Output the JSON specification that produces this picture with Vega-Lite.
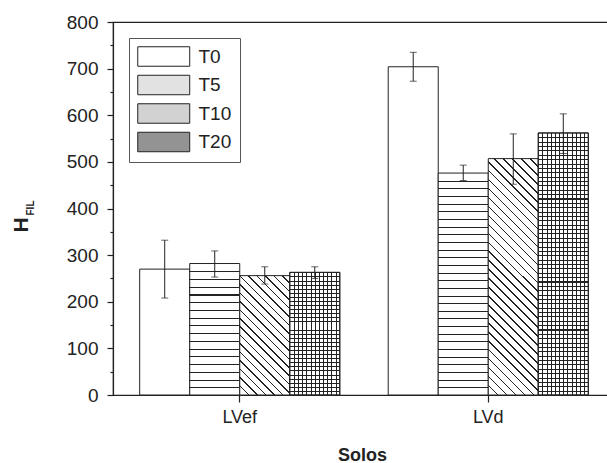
{
  "$schema": "https://vega.github.io/schema/vega-lite/v6.json",
  "width": 502,
  "height": 373,
  "autosize": {"type": "none"},
  "padding": {"left": 113, "top": 22, "right": -8, "bottom": 68},
  "background": "white",
  "config": {
    "view": {"stroke": "#222", "strokeWidth": 1.2},
    "font": "Liberation Sans",
    "axis": {"domainColor": "#222", "tickColor": "#222", "labelColor": "#222", "titleColor": "#222", "labelFont": "Liberation Sans", "titleFont": "Liberation Sans", "grid": false, "domainWidth": 1.2, "tickWidth": 1.2}
  },
  "data": {
    "values": [
      {"solo": "LVef", "t": "T0", "value": 270, "lo": 208, "hi": 332},
      {"solo": "LVef", "t": "T5", "value": 282, "lo": 253, "hi": 309},
      {"solo": "LVef", "t": "T10", "value": 256, "lo": 238, "hi": 275},
      {"solo": "LVef", "t": "T20", "value": 263, "lo": 250, "hi": 275},
      {"solo": "LVd", "t": "T0", "value": 704, "lo": 673, "hi": 735},
      {"solo": "LVd", "t": "T5", "value": 476, "lo": 460, "hi": 493},
      {"solo": "LVd", "t": "T10", "value": 507, "lo": 452, "hi": 560},
      {"solo": "LVd", "t": "T20", "value": 562, "lo": 518, "hi": 603}
    ]
  },
  "resolve": {"axis": {"y": "independent"}},
  "layer": [
    {
      "mark": {"type": "bar", "stroke": "#222", "strokeWidth": 1},
      "encoding": {
        "x": {"field": "solo", "type": "nominal", "sort": ["LVef", "LVd"], "scale": {"paddingInner": 0, "paddingOuter": 0.01},
          "axis": {"title": "Solos", "labelAngle": 0, "labelFontSize": 18, "labelBaseline": "alphabetic", "labelPadding": 20, "tickSize": 7, "titleFontSize": 18, "titleFontWeight": "bold", "titleBaseline": "alphabetic", "titleX": 249, "titleY": 65}},
        "xOffset": {"field": "t", "type": "nominal", "sort": ["T0", "T5", "T10", "T20"], "scale": {"domain": ["T0", "T5", "T10", "T20"], "paddingInner": 0, "paddingOuter": 0.484}},
        "y": {"field": "value", "type": "quantitative", "scale": {"domain": [0, 800], "nice": false},
          "axis": {"title": "H", "titleFontSize": 21, "titleFontWeight": "bold", "titleAngle": -90, "titleAlign": "center", "titleBaseline": "alphabetic", "titleX": -86, "titleY": 202.5,
            "values": [0, 50, 100, 150, 200, 250, 300, 350, 400, 450, 500, 550, 600, 650, 700, 750, 800],
            "labelExpr": "datum.value % 100 === 0 ? datum.label : ''",
            "tickSize": {"condition": {"test": "datum.value % 100 !== 0", "value": 3}, "value": 6},
            "labelFontSize": 19, "labelPadding": 9}},
        "fill": {
          "field": "t", "type": "nominal",
          "scale": {"domain": ["T0", "T5", "T10", "T20"], "range": ["#ffffff", "#e2e2e2", "#d2d2d2", "#939393"]},
          "legend": {
            "title": null, "orient": "none", "legendX": 16, "legendY": 16, "padding": 8, "rowPadding": 3.5,
            "strokeColor": "#555", "symbolType": "M-1,-1H4.333V1H-1Z", "symbolSize": 380,
            "symbolStrokeColor": "#222", "symbolStrokeWidth": 1, "symbolOpacity": 1, "labelFontSize": 19, "labelColor": "#222", "labelOffset": 40.5,
            "labelExpr": "datum.label + '  '"
          },
          "condition": [
            {"test": "datum.t === 'T0'", "value": "#fff"},
            {"test": "datum.solo === 'LVef' && datum.t === 'T5'", "value": {"gradient": "linear", "x1": 0, "y1": 0, "x2": 0, "y2": 1, "stops": [
              {"offset": 0, "color": "#fff"},
              {"offset": 0.0588, "color": "#fff"}, {"offset": 0.0588, "color": "#222"}, {"offset": 0.0668, "color": "#222"}, {"offset": 0.0668, "color": "#fff"},
              {"offset": 0.1176, "color": "#fff"}, {"offset": 0.1176, "color": "#222"}, {"offset": 0.1256, "color": "#222"}, {"offset": 0.1256, "color": "#fff"},
              {"offset": 0.1765, "color": "#fff"}, {"offset": 0.1765, "color": "#222"}, {"offset": 0.1845, "color": "#222"}, {"offset": 0.1845, "color": "#fff"},
              {"offset": 0.2353, "color": "#fff"}, {"offset": 0.2353, "color": "#222"}, {"offset": 0.2433, "color": "#222"}, {"offset": 0.2433, "color": "#fff"},
              {"offset": 0.2941, "color": "#fff"}, {"offset": 0.2941, "color": "#222"}, {"offset": 0.3021, "color": "#222"}, {"offset": 0.3021, "color": "#fff"},
              {"offset": 0.3529, "color": "#fff"}, {"offset": 0.3529, "color": "#222"}, {"offset": 0.3609, "color": "#222"}, {"offset": 0.3609, "color": "#fff"},
              {"offset": 0.4118, "color": "#fff"}, {"offset": 0.4118, "color": "#222"}, {"offset": 0.4198, "color": "#222"}, {"offset": 0.4198, "color": "#fff"},
              {"offset": 0.4706, "color": "#fff"}, {"offset": 0.4706, "color": "#222"}, {"offset": 0.4786, "color": "#222"}, {"offset": 0.4786, "color": "#fff"},
              {"offset": 0.5294, "color": "#fff"}, {"offset": 0.5294, "color": "#222"}, {"offset": 0.5374, "color": "#222"}, {"offset": 0.5374, "color": "#fff"},
              {"offset": 0.5882, "color": "#fff"}, {"offset": 0.5882, "color": "#222"}, {"offset": 0.5962, "color": "#222"}, {"offset": 0.5962, "color": "#fff"},
              {"offset": 0.6471, "color": "#fff"}, {"offset": 0.6471, "color": "#222"}, {"offset": 0.6551, "color": "#222"}, {"offset": 0.6551, "color": "#fff"},
              {"offset": 0.7059, "color": "#fff"}, {"offset": 0.7059, "color": "#222"}, {"offset": 0.7139, "color": "#222"}, {"offset": 0.7139, "color": "#fff"},
              {"offset": 0.7647, "color": "#fff"}, {"offset": 0.7647, "color": "#222"}, {"offset": 0.7727, "color": "#222"}, {"offset": 0.7727, "color": "#fff"},
              {"offset": 0.8235, "color": "#fff"}, {"offset": 0.8235, "color": "#222"}, {"offset": 0.8315, "color": "#222"}, {"offset": 0.8315, "color": "#fff"},
              {"offset": 0.8824, "color": "#fff"}, {"offset": 0.8824, "color": "#222"}, {"offset": 0.8904, "color": "#222"}, {"offset": 0.8904, "color": "#fff"},
              {"offset": 0.9412, "color": "#fff"}, {"offset": 0.9412, "color": "#222"}, {"offset": 0.9492, "color": "#222"}, {"offset": 0.9492, "color": "#fff"},
              {"offset": 1, "color": "#fff"}]}},
            {"test": "datum.solo === 'LVd' && datum.t === 'T5'", "value": {"gradient": "linear", "x1": 0, "y1": 0, "x2": 0, "y2": 1, "stops": [
              {"offset": 0, "color": "#fff"},
              {"offset": 0.0345, "color": "#fff"}, {"offset": 0.0345, "color": "#222"}, {"offset": 0.039, "color": "#222"}, {"offset": 0.039, "color": "#fff"},
              {"offset": 0.069, "color": "#fff"}, {"offset": 0.069, "color": "#222"}, {"offset": 0.0735, "color": "#222"}, {"offset": 0.0735, "color": "#fff"},
              {"offset": 0.1034, "color": "#fff"}, {"offset": 0.1034, "color": "#222"}, {"offset": 0.1079, "color": "#222"}, {"offset": 0.1079, "color": "#fff"},
              {"offset": 0.1379, "color": "#fff"}, {"offset": 0.1379, "color": "#222"}, {"offset": 0.1424, "color": "#222"}, {"offset": 0.1424, "color": "#fff"},
              {"offset": 0.1724, "color": "#fff"}, {"offset": 0.1724, "color": "#222"}, {"offset": 0.1769, "color": "#222"}, {"offset": 0.1769, "color": "#fff"},
              {"offset": 0.2069, "color": "#fff"}, {"offset": 0.2069, "color": "#222"}, {"offset": 0.2114, "color": "#222"}, {"offset": 0.2114, "color": "#fff"},
              {"offset": 0.2414, "color": "#fff"}, {"offset": 0.2414, "color": "#222"}, {"offset": 0.2459, "color": "#222"}, {"offset": 0.2459, "color": "#fff"},
              {"offset": 0.2759, "color": "#fff"}, {"offset": 0.2759, "color": "#222"}, {"offset": 0.2804, "color": "#222"}, {"offset": 0.2804, "color": "#fff"},
              {"offset": 0.3103, "color": "#fff"}, {"offset": 0.3103, "color": "#222"}, {"offset": 0.3148, "color": "#222"}, {"offset": 0.3148, "color": "#fff"},
              {"offset": 0.3448, "color": "#fff"}, {"offset": 0.3448, "color": "#222"}, {"offset": 0.3493, "color": "#222"}, {"offset": 0.3493, "color": "#fff"},
              {"offset": 0.3793, "color": "#fff"}, {"offset": 0.3793, "color": "#222"}, {"offset": 0.3838, "color": "#222"}, {"offset": 0.3838, "color": "#fff"},
              {"offset": 0.4138, "color": "#fff"}, {"offset": 0.4138, "color": "#222"}, {"offset": 0.4183, "color": "#222"}, {"offset": 0.4183, "color": "#fff"},
              {"offset": 0.4483, "color": "#fff"}, {"offset": 0.4483, "color": "#222"}, {"offset": 0.4528, "color": "#222"}, {"offset": 0.4528, "color": "#fff"},
              {"offset": 0.4828, "color": "#fff"}, {"offset": 0.4828, "color": "#222"}, {"offset": 0.4873, "color": "#222"}, {"offset": 0.4873, "color": "#fff"},
              {"offset": 0.5172, "color": "#fff"}, {"offset": 0.5172, "color": "#222"}, {"offset": 0.5217, "color": "#222"}, {"offset": 0.5217, "color": "#fff"},
              {"offset": 0.5517, "color": "#fff"}, {"offset": 0.5517, "color": "#222"}, {"offset": 0.5562, "color": "#222"}, {"offset": 0.5562, "color": "#fff"},
              {"offset": 0.5862, "color": "#fff"}, {"offset": 0.5862, "color": "#222"}, {"offset": 0.5907, "color": "#222"}, {"offset": 0.5907, "color": "#fff"},
              {"offset": 0.6207, "color": "#fff"}, {"offset": 0.6207, "color": "#222"}, {"offset": 0.6252, "color": "#222"}, {"offset": 0.6252, "color": "#fff"},
              {"offset": 0.6552, "color": "#fff"}, {"offset": 0.6552, "color": "#222"}, {"offset": 0.6597, "color": "#222"}, {"offset": 0.6597, "color": "#fff"},
              {"offset": 0.6897, "color": "#fff"}, {"offset": 0.6897, "color": "#222"}, {"offset": 0.6942, "color": "#222"}, {"offset": 0.6942, "color": "#fff"},
              {"offset": 0.7241, "color": "#fff"}, {"offset": 0.7241, "color": "#222"}, {"offset": 0.7286, "color": "#222"}, {"offset": 0.7286, "color": "#fff"},
              {"offset": 0.7586, "color": "#fff"}, {"offset": 0.7586, "color": "#222"}, {"offset": 0.7631, "color": "#222"}, {"offset": 0.7631, "color": "#fff"},
              {"offset": 0.7931, "color": "#fff"}, {"offset": 0.7931, "color": "#222"}, {"offset": 0.7976, "color": "#222"}, {"offset": 0.7976, "color": "#fff"},
              {"offset": 0.8276, "color": "#fff"}, {"offset": 0.8276, "color": "#222"}, {"offset": 0.8321, "color": "#222"}, {"offset": 0.8321, "color": "#fff"},
              {"offset": 0.8621, "color": "#fff"}, {"offset": 0.8621, "color": "#222"}, {"offset": 0.8666, "color": "#222"}, {"offset": 0.8666, "color": "#fff"},
              {"offset": 0.8966, "color": "#fff"}, {"offset": 0.8966, "color": "#222"}, {"offset": 0.9011, "color": "#222"}, {"offset": 0.9011, "color": "#fff"},
              {"offset": 0.931, "color": "#fff"}, {"offset": 0.931, "color": "#222"}, {"offset": 0.9355, "color": "#222"}, {"offset": 0.9355, "color": "#fff"},
              {"offset": 0.9655, "color": "#fff"}, {"offset": 0.9655, "color": "#222"}, {"offset": 0.97, "color": "#222"}, {"offset": 0.97, "color": "#fff"},
              {"offset": 1, "color": "#fff"}]}},
            {"test": "datum.solo === 'LVef' && datum.t === 'T10'", "value": {"gradient": "linear", "x1": 0, "y1": 1, "x2": 0.5055, "y2": -0.2071, "stops": [
              {"offset": 0, "color": "#fff"},
              {"offset": 0.05, "color": "#fff"}, {"offset": 0.05, "color": "#222"}, {"offset": 0.059, "color": "#222"}, {"offset": 0.059, "color": "#fff"},
              {"offset": 0.1, "color": "#fff"}, {"offset": 0.1, "color": "#222"}, {"offset": 0.109, "color": "#222"}, {"offset": 0.109, "color": "#fff"},
              {"offset": 0.15, "color": "#fff"}, {"offset": 0.15, "color": "#222"}, {"offset": 0.159, "color": "#222"}, {"offset": 0.159, "color": "#fff"},
              {"offset": 0.2, "color": "#fff"}, {"offset": 0.2, "color": "#222"}, {"offset": 0.209, "color": "#222"}, {"offset": 0.209, "color": "#fff"},
              {"offset": 0.25, "color": "#fff"}, {"offset": 0.25, "color": "#222"}, {"offset": 0.259, "color": "#222"}, {"offset": 0.259, "color": "#fff"},
              {"offset": 0.3, "color": "#fff"}, {"offset": 0.3, "color": "#222"}, {"offset": 0.309, "color": "#222"}, {"offset": 0.309, "color": "#fff"},
              {"offset": 0.35, "color": "#fff"}, {"offset": 0.35, "color": "#222"}, {"offset": 0.359, "color": "#222"}, {"offset": 0.359, "color": "#fff"},
              {"offset": 0.4, "color": "#fff"}, {"offset": 0.4, "color": "#222"}, {"offset": 0.409, "color": "#222"}, {"offset": 0.409, "color": "#fff"},
              {"offset": 0.45, "color": "#fff"}, {"offset": 0.45, "color": "#222"}, {"offset": 0.459, "color": "#222"}, {"offset": 0.459, "color": "#fff"},
              {"offset": 0.5, "color": "#fff"}, {"offset": 0.5, "color": "#222"}, {"offset": 0.509, "color": "#222"}, {"offset": 0.509, "color": "#fff"},
              {"offset": 0.55, "color": "#fff"}, {"offset": 0.55, "color": "#222"}, {"offset": 0.559, "color": "#222"}, {"offset": 0.559, "color": "#fff"},
              {"offset": 0.6, "color": "#fff"}, {"offset": 0.6, "color": "#222"}, {"offset": 0.609, "color": "#222"}, {"offset": 0.609, "color": "#fff"},
              {"offset": 0.65, "color": "#fff"}, {"offset": 0.65, "color": "#222"}, {"offset": 0.659, "color": "#222"}, {"offset": 0.659, "color": "#fff"},
              {"offset": 0.7, "color": "#fff"}, {"offset": 0.7, "color": "#222"}, {"offset": 0.709, "color": "#222"}, {"offset": 0.709, "color": "#fff"},
              {"offset": 0.75, "color": "#fff"}, {"offset": 0.75, "color": "#222"}, {"offset": 0.759, "color": "#222"}, {"offset": 0.759, "color": "#fff"},
              {"offset": 0.8, "color": "#fff"}, {"offset": 0.8, "color": "#222"}, {"offset": 0.809, "color": "#222"}, {"offset": 0.809, "color": "#fff"},
              {"offset": 0.85, "color": "#fff"}, {"offset": 0.85, "color": "#222"}, {"offset": 0.859, "color": "#222"}, {"offset": 0.859, "color": "#fff"},
              {"offset": 0.9, "color": "#fff"}, {"offset": 0.9, "color": "#222"}, {"offset": 0.909, "color": "#222"}, {"offset": 0.909, "color": "#fff"},
              {"offset": 0.95, "color": "#fff"}, {"offset": 0.95, "color": "#222"}, {"offset": 0.959, "color": "#222"}, {"offset": 0.959, "color": "#fff"},
              {"offset": 1, "color": "#fff"}]}},
            {"test": "datum.solo === 'LVd' && datum.t === 'T10'", "value": {"gradient": "linear", "x1": 0, "y1": 1, "x2": 0.2453, "y2": -0.1596, "stops": [
              {"offset": 0, "color": "#fff"},
              {"offset": 0.0313, "color": "#fff"}, {"offset": 0.0313, "color": "#222"}, {"offset": 0.0368, "color": "#222"}, {"offset": 0.0368, "color": "#fff"},
              {"offset": 0.0625, "color": "#fff"}, {"offset": 0.0625, "color": "#222"}, {"offset": 0.068, "color": "#222"}, {"offset": 0.068, "color": "#fff"},
              {"offset": 0.0938, "color": "#fff"}, {"offset": 0.0938, "color": "#222"}, {"offset": 0.0993, "color": "#222"}, {"offset": 0.0993, "color": "#fff"},
              {"offset": 0.125, "color": "#fff"}, {"offset": 0.125, "color": "#222"}, {"offset": 0.1305, "color": "#222"}, {"offset": 0.1305, "color": "#fff"},
              {"offset": 0.1563, "color": "#fff"}, {"offset": 0.1563, "color": "#222"}, {"offset": 0.1618, "color": "#222"}, {"offset": 0.1618, "color": "#fff"},
              {"offset": 0.1875, "color": "#fff"}, {"offset": 0.1875, "color": "#222"}, {"offset": 0.193, "color": "#222"}, {"offset": 0.193, "color": "#fff"},
              {"offset": 0.2188, "color": "#fff"}, {"offset": 0.2188, "color": "#222"}, {"offset": 0.2243, "color": "#222"}, {"offset": 0.2243, "color": "#fff"},
              {"offset": 0.25, "color": "#fff"}, {"offset": 0.25, "color": "#222"}, {"offset": 0.2555, "color": "#222"}, {"offset": 0.2555, "color": "#fff"},
              {"offset": 0.2813, "color": "#fff"}, {"offset": 0.2813, "color": "#222"}, {"offset": 0.2868, "color": "#222"}, {"offset": 0.2868, "color": "#fff"},
              {"offset": 0.3125, "color": "#fff"}, {"offset": 0.3125, "color": "#222"}, {"offset": 0.318, "color": "#222"}, {"offset": 0.318, "color": "#fff"},
              {"offset": 0.3438, "color": "#fff"}, {"offset": 0.3438, "color": "#222"}, {"offset": 0.3493, "color": "#222"}, {"offset": 0.3493, "color": "#fff"},
              {"offset": 0.375, "color": "#fff"}, {"offset": 0.375, "color": "#222"}, {"offset": 0.3805, "color": "#222"}, {"offset": 0.3805, "color": "#fff"},
              {"offset": 0.4063, "color": "#fff"}, {"offset": 0.4063, "color": "#222"}, {"offset": 0.4118, "color": "#222"}, {"offset": 0.4118, "color": "#fff"},
              {"offset": 0.4375, "color": "#fff"}, {"offset": 0.4375, "color": "#222"}, {"offset": 0.443, "color": "#222"}, {"offset": 0.443, "color": "#fff"},
              {"offset": 0.4688, "color": "#fff"}, {"offset": 0.4688, "color": "#222"}, {"offset": 0.4743, "color": "#222"}, {"offset": 0.4743, "color": "#fff"},
              {"offset": 0.5, "color": "#fff"}, {"offset": 0.5, "color": "#222"}, {"offset": 0.5055, "color": "#222"}, {"offset": 0.5055, "color": "#fff"},
              {"offset": 0.5313, "color": "#fff"}, {"offset": 0.5313, "color": "#222"}, {"offset": 0.5368, "color": "#222"}, {"offset": 0.5368, "color": "#fff"},
              {"offset": 0.5625, "color": "#fff"}, {"offset": 0.5625, "color": "#222"}, {"offset": 0.568, "color": "#222"}, {"offset": 0.568, "color": "#fff"},
              {"offset": 0.5938, "color": "#fff"}, {"offset": 0.5938, "color": "#222"}, {"offset": 0.5993, "color": "#222"}, {"offset": 0.5993, "color": "#fff"},
              {"offset": 0.625, "color": "#fff"}, {"offset": 0.625, "color": "#222"}, {"offset": 0.6305, "color": "#222"}, {"offset": 0.6305, "color": "#fff"},
              {"offset": 0.6563, "color": "#fff"}, {"offset": 0.6563, "color": "#222"}, {"offset": 0.6618, "color": "#222"}, {"offset": 0.6618, "color": "#fff"},
              {"offset": 0.6875, "color": "#fff"}, {"offset": 0.6875, "color": "#222"}, {"offset": 0.693, "color": "#222"}, {"offset": 0.693, "color": "#fff"},
              {"offset": 0.7188, "color": "#fff"}, {"offset": 0.7188, "color": "#222"}, {"offset": 0.7243, "color": "#222"}, {"offset": 0.7243, "color": "#fff"},
              {"offset": 0.75, "color": "#fff"}, {"offset": 0.75, "color": "#222"}, {"offset": 0.7555, "color": "#222"}, {"offset": 0.7555, "color": "#fff"},
              {"offset": 0.7813, "color": "#fff"}, {"offset": 0.7813, "color": "#222"}, {"offset": 0.7868, "color": "#222"}, {"offset": 0.7868, "color": "#fff"},
              {"offset": 0.8125, "color": "#fff"}, {"offset": 0.8125, "color": "#222"}, {"offset": 0.818, "color": "#222"}, {"offset": 0.818, "color": "#fff"},
              {"offset": 0.8438, "color": "#fff"}, {"offset": 0.8438, "color": "#222"}, {"offset": 0.8493, "color": "#222"}, {"offset": 0.8493, "color": "#fff"},
              {"offset": 0.875, "color": "#fff"}, {"offset": 0.875, "color": "#222"}, {"offset": 0.8805, "color": "#222"}, {"offset": 0.8805, "color": "#fff"},
              {"offset": 0.9063, "color": "#fff"}, {"offset": 0.9063, "color": "#222"}, {"offset": 0.9118, "color": "#222"}, {"offset": 0.9118, "color": "#fff"},
              {"offset": 0.9375, "color": "#fff"}, {"offset": 0.9375, "color": "#222"}, {"offset": 0.943, "color": "#222"}, {"offset": 0.943, "color": "#fff"},
              {"offset": 0.9688, "color": "#fff"}, {"offset": 0.9688, "color": "#222"}, {"offset": 0.9743, "color": "#222"}, {"offset": 0.9743, "color": "#fff"},
              {"offset": 1, "color": "#fff"}]}},
            {"test": "datum.solo === 'LVef' && datum.t === 'T20'", "value": {"gradient": "linear", "x1": 0, "y1": 0, "x2": 0, "y2": 1, "stops": [
              {"offset": 0, "color": "#fff"},
              {"offset": 0.0333, "color": "#fff"}, {"offset": 0.0333, "color": "#222"}, {"offset": 0.0413, "color": "#222"}, {"offset": 0.0413, "color": "#fff"},
              {"offset": 0.0667, "color": "#fff"}, {"offset": 0.0667, "color": "#222"}, {"offset": 0.0747, "color": "#222"}, {"offset": 0.0747, "color": "#fff"},
              {"offset": 0.1, "color": "#fff"}, {"offset": 0.1, "color": "#222"}, {"offset": 0.108, "color": "#222"}, {"offset": 0.108, "color": "#fff"},
              {"offset": 0.1333, "color": "#fff"}, {"offset": 0.1333, "color": "#222"}, {"offset": 0.1413, "color": "#222"}, {"offset": 0.1413, "color": "#fff"},
              {"offset": 0.1667, "color": "#fff"}, {"offset": 0.1667, "color": "#222"}, {"offset": 0.1747, "color": "#222"}, {"offset": 0.1747, "color": "#fff"},
              {"offset": 0.2, "color": "#fff"}, {"offset": 0.2, "color": "#222"}, {"offset": 0.208, "color": "#222"}, {"offset": 0.208, "color": "#fff"},
              {"offset": 0.2333, "color": "#fff"}, {"offset": 0.2333, "color": "#222"}, {"offset": 0.2413, "color": "#222"}, {"offset": 0.2413, "color": "#fff"},
              {"offset": 0.2667, "color": "#fff"}, {"offset": 0.2667, "color": "#222"}, {"offset": 0.2747, "color": "#222"}, {"offset": 0.2747, "color": "#fff"},
              {"offset": 0.3, "color": "#fff"}, {"offset": 0.3, "color": "#222"}, {"offset": 0.308, "color": "#222"}, {"offset": 0.308, "color": "#fff"},
              {"offset": 0.3333, "color": "#fff"}, {"offset": 0.3333, "color": "#222"}, {"offset": 0.3413, "color": "#222"}, {"offset": 0.3413, "color": "#fff"},
              {"offset": 0.3667, "color": "#fff"}, {"offset": 0.3667, "color": "#222"}, {"offset": 0.3747, "color": "#222"}, {"offset": 0.3747, "color": "#fff"},
              {"offset": 0.4, "color": "#fff"}, {"offset": 0.4, "color": "#222"}, {"offset": 0.408, "color": "#222"}, {"offset": 0.408, "color": "#fff"},
              {"offset": 0.4333, "color": "#fff"}, {"offset": 0.4333, "color": "#222"}, {"offset": 0.4413, "color": "#222"}, {"offset": 0.4413, "color": "#fff"},
              {"offset": 0.4667, "color": "#fff"}, {"offset": 0.4667, "color": "#222"}, {"offset": 0.4747, "color": "#222"}, {"offset": 0.4747, "color": "#fff"},
              {"offset": 0.5, "color": "#fff"}, {"offset": 0.5, "color": "#222"}, {"offset": 0.508, "color": "#222"}, {"offset": 0.508, "color": "#fff"},
              {"offset": 0.5333, "color": "#fff"}, {"offset": 0.5333, "color": "#222"}, {"offset": 0.5413, "color": "#222"}, {"offset": 0.5413, "color": "#fff"},
              {"offset": 0.5667, "color": "#fff"}, {"offset": 0.5667, "color": "#222"}, {"offset": 0.5747, "color": "#222"}, {"offset": 0.5747, "color": "#fff"},
              {"offset": 0.6, "color": "#fff"}, {"offset": 0.6, "color": "#222"}, {"offset": 0.608, "color": "#222"}, {"offset": 0.608, "color": "#fff"},
              {"offset": 0.6333, "color": "#fff"}, {"offset": 0.6333, "color": "#222"}, {"offset": 0.6413, "color": "#222"}, {"offset": 0.6413, "color": "#fff"},
              {"offset": 0.6667, "color": "#fff"}, {"offset": 0.6667, "color": "#222"}, {"offset": 0.6747, "color": "#222"}, {"offset": 0.6747, "color": "#fff"},
              {"offset": 0.7, "color": "#fff"}, {"offset": 0.7, "color": "#222"}, {"offset": 0.708, "color": "#222"}, {"offset": 0.708, "color": "#fff"},
              {"offset": 0.7333, "color": "#fff"}, {"offset": 0.7333, "color": "#222"}, {"offset": 0.7413, "color": "#222"}, {"offset": 0.7413, "color": "#fff"},
              {"offset": 0.7667, "color": "#fff"}, {"offset": 0.7667, "color": "#222"}, {"offset": 0.7747, "color": "#222"}, {"offset": 0.7747, "color": "#fff"},
              {"offset": 0.8, "color": "#fff"}, {"offset": 0.8, "color": "#222"}, {"offset": 0.808, "color": "#222"}, {"offset": 0.808, "color": "#fff"},
              {"offset": 0.8333, "color": "#fff"}, {"offset": 0.8333, "color": "#222"}, {"offset": 0.8413, "color": "#222"}, {"offset": 0.8413, "color": "#fff"},
              {"offset": 0.8667, "color": "#fff"}, {"offset": 0.8667, "color": "#222"}, {"offset": 0.8747, "color": "#222"}, {"offset": 0.8747, "color": "#fff"},
              {"offset": 0.9, "color": "#fff"}, {"offset": 0.9, "color": "#222"}, {"offset": 0.908, "color": "#222"}, {"offset": 0.908, "color": "#fff"},
              {"offset": 0.9333, "color": "#fff"}, {"offset": 0.9333, "color": "#222"}, {"offset": 0.9413, "color": "#222"}, {"offset": 0.9413, "color": "#fff"},
              {"offset": 0.9667, "color": "#fff"}, {"offset": 0.9667, "color": "#222"}, {"offset": 0.9747, "color": "#222"}, {"offset": 0.9747, "color": "#fff"},
              {"offset": 1, "color": "#fff"}]}},
            {"test": "datum.solo === 'LVd' && datum.t === 'T20'", "value": {"gradient": "linear", "x1": 0, "y1": 0, "x2": 0, "y2": 1, "stops": [
              {"offset": 0, "color": "#fff"},
              {"offset": 0.0167, "color": "#fff"}, {"offset": 0.0167, "color": "#222"}, {"offset": 0.0207, "color": "#222"}, {"offset": 0.0207, "color": "#fff"},
              {"offset": 0.0333, "color": "#fff"}, {"offset": 0.0333, "color": "#222"}, {"offset": 0.0373, "color": "#222"}, {"offset": 0.0373, "color": "#fff"},
              {"offset": 0.05, "color": "#fff"}, {"offset": 0.05, "color": "#222"}, {"offset": 0.054, "color": "#222"}, {"offset": 0.054, "color": "#fff"},
              {"offset": 0.0667, "color": "#fff"}, {"offset": 0.0667, "color": "#222"}, {"offset": 0.0707, "color": "#222"}, {"offset": 0.0707, "color": "#fff"},
              {"offset": 0.0833, "color": "#fff"}, {"offset": 0.0833, "color": "#222"}, {"offset": 0.0873, "color": "#222"}, {"offset": 0.0873, "color": "#fff"},
              {"offset": 0.1, "color": "#fff"}, {"offset": 0.1, "color": "#222"}, {"offset": 0.104, "color": "#222"}, {"offset": 0.104, "color": "#fff"},
              {"offset": 0.1167, "color": "#fff"}, {"offset": 0.1167, "color": "#222"}, {"offset": 0.1207, "color": "#222"}, {"offset": 0.1207, "color": "#fff"},
              {"offset": 0.1333, "color": "#fff"}, {"offset": 0.1333, "color": "#222"}, {"offset": 0.1373, "color": "#222"}, {"offset": 0.1373, "color": "#fff"},
              {"offset": 0.15, "color": "#fff"}, {"offset": 0.15, "color": "#222"}, {"offset": 0.154, "color": "#222"}, {"offset": 0.154, "color": "#fff"},
              {"offset": 0.1667, "color": "#fff"}, {"offset": 0.1667, "color": "#222"}, {"offset": 0.1707, "color": "#222"}, {"offset": 0.1707, "color": "#fff"},
              {"offset": 0.1833, "color": "#fff"}, {"offset": 0.1833, "color": "#222"}, {"offset": 0.1873, "color": "#222"}, {"offset": 0.1873, "color": "#fff"},
              {"offset": 0.2, "color": "#fff"}, {"offset": 0.2, "color": "#222"}, {"offset": 0.204, "color": "#222"}, {"offset": 0.204, "color": "#fff"},
              {"offset": 0.2167, "color": "#fff"}, {"offset": 0.2167, "color": "#222"}, {"offset": 0.2207, "color": "#222"}, {"offset": 0.2207, "color": "#fff"},
              {"offset": 0.2333, "color": "#fff"}, {"offset": 0.2333, "color": "#222"}, {"offset": 0.2373, "color": "#222"}, {"offset": 0.2373, "color": "#fff"},
              {"offset": 0.25, "color": "#fff"}, {"offset": 0.25, "color": "#222"}, {"offset": 0.254, "color": "#222"}, {"offset": 0.254, "color": "#fff"},
              {"offset": 0.2667, "color": "#fff"}, {"offset": 0.2667, "color": "#222"}, {"offset": 0.2707, "color": "#222"}, {"offset": 0.2707, "color": "#fff"},
              {"offset": 0.2833, "color": "#fff"}, {"offset": 0.2833, "color": "#222"}, {"offset": 0.2873, "color": "#222"}, {"offset": 0.2873, "color": "#fff"},
              {"offset": 0.3, "color": "#fff"}, {"offset": 0.3, "color": "#222"}, {"offset": 0.304, "color": "#222"}, {"offset": 0.304, "color": "#fff"},
              {"offset": 0.3167, "color": "#fff"}, {"offset": 0.3167, "color": "#222"}, {"offset": 0.3207, "color": "#222"}, {"offset": 0.3207, "color": "#fff"},
              {"offset": 0.3333, "color": "#fff"}, {"offset": 0.3333, "color": "#222"}, {"offset": 0.3373, "color": "#222"}, {"offset": 0.3373, "color": "#fff"},
              {"offset": 0.35, "color": "#fff"}, {"offset": 0.35, "color": "#222"}, {"offset": 0.354, "color": "#222"}, {"offset": 0.354, "color": "#fff"},
              {"offset": 0.3667, "color": "#fff"}, {"offset": 0.3667, "color": "#222"}, {"offset": 0.3707, "color": "#222"}, {"offset": 0.3707, "color": "#fff"},
              {"offset": 0.3833, "color": "#fff"}, {"offset": 0.3833, "color": "#222"}, {"offset": 0.3873, "color": "#222"}, {"offset": 0.3873, "color": "#fff"},
              {"offset": 0.4, "color": "#fff"}, {"offset": 0.4, "color": "#222"}, {"offset": 0.404, "color": "#222"}, {"offset": 0.404, "color": "#fff"},
              {"offset": 0.4167, "color": "#fff"}, {"offset": 0.4167, "color": "#222"}, {"offset": 0.4207, "color": "#222"}, {"offset": 0.4207, "color": "#fff"},
              {"offset": 0.4333, "color": "#fff"}, {"offset": 0.4333, "color": "#222"}, {"offset": 0.4373, "color": "#222"}, {"offset": 0.4373, "color": "#fff"},
              {"offset": 0.45, "color": "#fff"}, {"offset": 0.45, "color": "#222"}, {"offset": 0.454, "color": "#222"}, {"offset": 0.454, "color": "#fff"},
              {"offset": 0.4667, "color": "#fff"}, {"offset": 0.4667, "color": "#222"}, {"offset": 0.4707, "color": "#222"}, {"offset": 0.4707, "color": "#fff"},
              {"offset": 0.4833, "color": "#fff"}, {"offset": 0.4833, "color": "#222"}, {"offset": 0.4873, "color": "#222"}, {"offset": 0.4873, "color": "#fff"},
              {"offset": 0.5, "color": "#fff"}, {"offset": 0.5, "color": "#222"}, {"offset": 0.504, "color": "#222"}, {"offset": 0.504, "color": "#fff"},
              {"offset": 0.5167, "color": "#fff"}, {"offset": 0.5167, "color": "#222"}, {"offset": 0.5207, "color": "#222"}, {"offset": 0.5207, "color": "#fff"},
              {"offset": 0.5333, "color": "#fff"}, {"offset": 0.5333, "color": "#222"}, {"offset": 0.5373, "color": "#222"}, {"offset": 0.5373, "color": "#fff"},
              {"offset": 0.55, "color": "#fff"}, {"offset": 0.55, "color": "#222"}, {"offset": 0.554, "color": "#222"}, {"offset": 0.554, "color": "#fff"},
              {"offset": 0.5667, "color": "#fff"}, {"offset": 0.5667, "color": "#222"}, {"offset": 0.5707, "color": "#222"}, {"offset": 0.5707, "color": "#fff"},
              {"offset": 0.5833, "color": "#fff"}, {"offset": 0.5833, "color": "#222"}, {"offset": 0.5873, "color": "#222"}, {"offset": 0.5873, "color": "#fff"},
              {"offset": 0.6, "color": "#fff"}, {"offset": 0.6, "color": "#222"}, {"offset": 0.604, "color": "#222"}, {"offset": 0.604, "color": "#fff"},
              {"offset": 0.6167, "color": "#fff"}, {"offset": 0.6167, "color": "#222"}, {"offset": 0.6207, "color": "#222"}, {"offset": 0.6207, "color": "#fff"},
              {"offset": 0.6333, "color": "#fff"}, {"offset": 0.6333, "color": "#222"}, {"offset": 0.6373, "color": "#222"}, {"offset": 0.6373, "color": "#fff"},
              {"offset": 0.65, "color": "#fff"}, {"offset": 0.65, "color": "#222"}, {"offset": 0.654, "color": "#222"}, {"offset": 0.654, "color": "#fff"},
              {"offset": 0.6667, "color": "#fff"}, {"offset": 0.6667, "color": "#222"}, {"offset": 0.6707, "color": "#222"}, {"offset": 0.6707, "color": "#fff"},
              {"offset": 0.6833, "color": "#fff"}, {"offset": 0.6833, "color": "#222"}, {"offset": 0.6873, "color": "#222"}, {"offset": 0.6873, "color": "#fff"},
              {"offset": 0.7, "color": "#fff"}, {"offset": 0.7, "color": "#222"}, {"offset": 0.704, "color": "#222"}, {"offset": 0.704, "color": "#fff"},
              {"offset": 0.7167, "color": "#fff"}, {"offset": 0.7167, "color": "#222"}, {"offset": 0.7207, "color": "#222"}, {"offset": 0.7207, "color": "#fff"},
              {"offset": 0.7333, "color": "#fff"}, {"offset": 0.7333, "color": "#222"}, {"offset": 0.7373, "color": "#222"}, {"offset": 0.7373, "color": "#fff"},
              {"offset": 0.75, "color": "#fff"}, {"offset": 0.75, "color": "#222"}, {"offset": 0.754, "color": "#222"}, {"offset": 0.754, "color": "#fff"},
              {"offset": 0.7667, "color": "#fff"}, {"offset": 0.7667, "color": "#222"}, {"offset": 0.7707, "color": "#222"}, {"offset": 0.7707, "color": "#fff"},
              {"offset": 0.7833, "color": "#fff"}, {"offset": 0.7833, "color": "#222"}, {"offset": 0.7873, "color": "#222"}, {"offset": 0.7873, "color": "#fff"},
              {"offset": 0.8, "color": "#fff"}, {"offset": 0.8, "color": "#222"}, {"offset": 0.804, "color": "#222"}, {"offset": 0.804, "color": "#fff"},
              {"offset": 0.8167, "color": "#fff"}, {"offset": 0.8167, "color": "#222"}, {"offset": 0.8207, "color": "#222"}, {"offset": 0.8207, "color": "#fff"},
              {"offset": 0.8333, "color": "#fff"}, {"offset": 0.8333, "color": "#222"}, {"offset": 0.8373, "color": "#222"}, {"offset": 0.8373, "color": "#fff"},
              {"offset": 0.85, "color": "#fff"}, {"offset": 0.85, "color": "#222"}, {"offset": 0.854, "color": "#222"}, {"offset": 0.854, "color": "#fff"},
              {"offset": 0.8667, "color": "#fff"}, {"offset": 0.8667, "color": "#222"}, {"offset": 0.8707, "color": "#222"}, {"offset": 0.8707, "color": "#fff"},
              {"offset": 0.8833, "color": "#fff"}, {"offset": 0.8833, "color": "#222"}, {"offset": 0.8873, "color": "#222"}, {"offset": 0.8873, "color": "#fff"},
              {"offset": 0.9, "color": "#fff"}, {"offset": 0.9, "color": "#222"}, {"offset": 0.904, "color": "#222"}, {"offset": 0.904, "color": "#fff"},
              {"offset": 0.9167, "color": "#fff"}, {"offset": 0.9167, "color": "#222"}, {"offset": 0.9207, "color": "#222"}, {"offset": 0.9207, "color": "#fff"},
              {"offset": 0.9333, "color": "#fff"}, {"offset": 0.9333, "color": "#222"}, {"offset": 0.9373, "color": "#222"}, {"offset": 0.9373, "color": "#fff"},
              {"offset": 0.95, "color": "#fff"}, {"offset": 0.95, "color": "#222"}, {"offset": 0.954, "color": "#222"}, {"offset": 0.954, "color": "#fff"},
              {"offset": 0.9667, "color": "#fff"}, {"offset": 0.9667, "color": "#222"}, {"offset": 0.9707, "color": "#222"}, {"offset": 0.9707, "color": "#fff"},
              {"offset": 0.9833, "color": "#fff"}, {"offset": 0.9833, "color": "#222"}, {"offset": 0.9873, "color": "#222"}, {"offset": 0.9873, "color": "#fff"},
              {"offset": 1, "color": "#fff"}]}}
          ]
        }
      }
    },
    {
      "transform": [{"filter": "datum.t === 'T20'"}],
      "mark": {"type": "bar", "stroke": "#222", "strokeWidth": 1, "fill": {"gradient": "linear", "x1": 0, "y1": 0, "x2": 1, "y2": 0, "stops": [
        {"offset": 0, "color": "rgba(0,0,0,0)"},
        {"offset": 0.0833, "color": "rgba(0,0,0,0)"}, {"offset": 0.0833, "color": "#222"}, {"offset": 0.1033, "color": "#222"}, {"offset": 0.1033, "color": "rgba(0,0,0,0)"},
        {"offset": 0.1667, "color": "rgba(0,0,0,0)"}, {"offset": 0.1667, "color": "#222"}, {"offset": 0.1867, "color": "#222"}, {"offset": 0.1867, "color": "rgba(0,0,0,0)"},
        {"offset": 0.25, "color": "rgba(0,0,0,0)"}, {"offset": 0.25, "color": "#222"}, {"offset": 0.27, "color": "#222"}, {"offset": 0.27, "color": "rgba(0,0,0,0)"},
        {"offset": 0.3333, "color": "rgba(0,0,0,0)"}, {"offset": 0.3333, "color": "#222"}, {"offset": 0.3533, "color": "#222"}, {"offset": 0.3533, "color": "rgba(0,0,0,0)"},
        {"offset": 0.4167, "color": "rgba(0,0,0,0)"}, {"offset": 0.4167, "color": "#222"}, {"offset": 0.4367, "color": "#222"}, {"offset": 0.4367, "color": "rgba(0,0,0,0)"},
        {"offset": 0.5, "color": "rgba(0,0,0,0)"}, {"offset": 0.5, "color": "#222"}, {"offset": 0.52, "color": "#222"}, {"offset": 0.52, "color": "rgba(0,0,0,0)"},
        {"offset": 0.5833, "color": "rgba(0,0,0,0)"}, {"offset": 0.5833, "color": "#222"}, {"offset": 0.6033, "color": "#222"}, {"offset": 0.6033, "color": "rgba(0,0,0,0)"},
        {"offset": 0.6667, "color": "rgba(0,0,0,0)"}, {"offset": 0.6667, "color": "#222"}, {"offset": 0.6867, "color": "#222"}, {"offset": 0.6867, "color": "rgba(0,0,0,0)"},
        {"offset": 0.75, "color": "rgba(0,0,0,0)"}, {"offset": 0.75, "color": "#222"}, {"offset": 0.77, "color": "#222"}, {"offset": 0.77, "color": "rgba(0,0,0,0)"},
        {"offset": 0.8333, "color": "rgba(0,0,0,0)"}, {"offset": 0.8333, "color": "#222"}, {"offset": 0.8533, "color": "#222"}, {"offset": 0.8533, "color": "rgba(0,0,0,0)"},
        {"offset": 0.9167, "color": "rgba(0,0,0,0)"}, {"offset": 0.9167, "color": "#222"}, {"offset": 0.9367, "color": "#222"}, {"offset": 0.9367, "color": "rgba(0,0,0,0)"},
        {"offset": 1, "color": "rgba(0,0,0,0)"}]}},
      "encoding": {
        "x": {"field": "solo", "type": "nominal", "sort": ["LVef", "LVd"]},
        "xOffset": {"field": "t", "type": "nominal", "sort": ["T0", "T5", "T10", "T20"]},
        "y": {"field": "value", "type": "quantitative", "axis": null}
      }
    },
    {
      "mark": {"type": "rule", "stroke": "#222", "strokeWidth": 1},
      "encoding": {
        "x": {"field": "solo", "type": "nominal", "sort": ["LVef", "LVd"]},
        "xOffset": {"field": "t", "type": "nominal", "sort": ["T0", "T5", "T10", "T20"]},
        "y": {"field": "lo", "type": "quantitative", "axis": {"orient": "left", "title": "FIL", "domain": false, "ticks": false, "labels": false, "titleFontSize": 10, "titleFontWeight": "bold", "titleAngle": -90, "titleAlign": "center", "titleBaseline": "alphabetic", "titleX": -80, "titleY": 185.5}},
        "y2": {"field": "hi"}
      }
    },
    {
      "mark": {"type": "tick", "color": "#222", "thickness": 1, "size": 7, "orient": "horizontal"},
      "encoding": {
        "x": {"field": "solo", "type": "nominal", "sort": ["LVef", "LVd"]},
        "xOffset": {"field": "t", "type": "nominal", "sort": ["T0", "T5", "T10", "T20"]},
        "y": {"field": "lo", "type": "quantitative", "axis": null}
      }
    },
    {
      "mark": {"type": "tick", "color": "#222", "thickness": 1, "size": 7, "orient": "horizontal"},
      "encoding": {
        "x": {"field": "solo", "type": "nominal", "sort": ["LVef", "LVd"]},
        "xOffset": {"field": "t", "type": "nominal", "sort": ["T0", "T5", "T10", "T20"]},
        "y": {"field": "hi", "type": "quantitative", "axis": null}
      }
    }
  ]
}
